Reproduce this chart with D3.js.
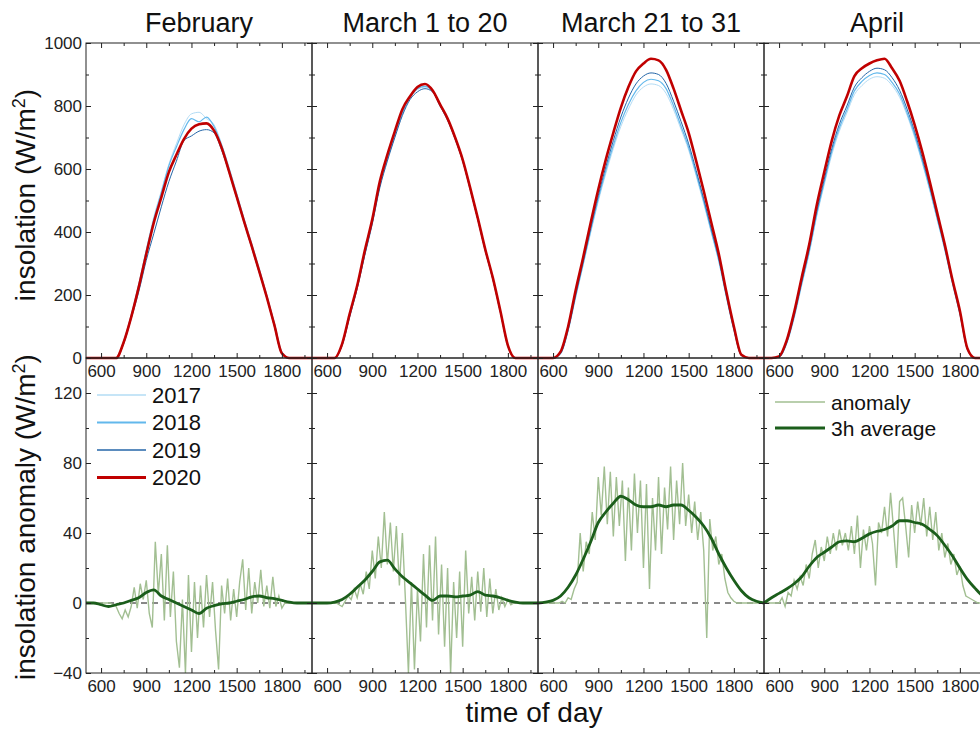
<!DOCTYPE html>
<html>
<head>
<meta charset="utf-8">
<script src="https://cdn.jsdelivr.net/npm/d3@7"></script>
<style>
  body { margin: 0; background: #fff; }
  svg { display: block; font-family: "Liberation Sans", Arial, sans-serif; }
  .tick text { font-size: 17px; fill: #222; }
  .tick line { stroke: #222; }
</style>
</head>
<body>
<script>
// periods and years
var periods = ["February", "March 1 to 20", "March 21 to 31", "April"];
var years = ["2017", "2018", "2019", "2020"];

// time of day (hhmm) for the insolation curves and the 3h average
var curveTimes = [500,550,600,650,700,750,800,850,900,950,1000,1050,1100,1150,1200,1250,
                  1300,1350,1400,1450,1500,1550,1600,1650,1700,1750,1800,1850,1900,1950,2000];

// insolation W/m2
var feb2017 = [0,0,0,0,0,55,138,235,345,448,530,615,680,740,775,780,760,740,680,605,525,442,365,285,200,112,20,0,0,0,0];
var feb2018 = [0,0,0,0,0,52,135,232,340,440,525,610,670,725,760,750,765,735,675,600,520,438,360,280,198,110,18,0,0,0,0];
var feb2019 = [0,0,0,0,0,45,125,210,310,395,480,560,625,690,705,720,725,715,660,588,508,428,350,270,190,100,12,0,0,0,0];
var feb2020 = [0,0,0,0,0,50,130,225,330,430,510,590,645,695,728,742,745,722,668,592,512,432,355,275,193,105,15,0,0,0,0];

var mar1_2017 = [0,0,0,0,40,132,222,328,430,545,630,705,775,825,852,860,846,800,755,695,625,535,440,340,250,146,37,0,0,0,0];
var mar1_2018 = [0,0,0,0,42,135,225,330,432,548,632,708,778,828,855,862,848,802,757,697,627,537,442,342,252,147,38,0,0,0,0];
var mar1_2019 = [0,0,0,0,40,130,220,325,425,540,625,700,770,820,845,855,845,800,755,695,625,535,440,340,250,145,38,0,0,0,0];
var mar1_2020 = [0,0,0,0,45,140,230,340,440,560,645,720,790,830,860,870,850,805,760,700,630,540,445,345,255,150,40,0,0,0,0];

var mar21_2017 = [0,0,0,13,85,192,295,398,497,585,665,735,790,835,860,870,865,840,788,725,660,578,490,398,305,193,88,7,0,0,0];
var mar21_2018 = [0,0,0,14,88,196,300,405,505,595,675,748,805,848,875,885,880,855,800,735,668,585,497,403,310,196,90,8,0,0,0];
var mar21_2019 = [0,0,0,15,90,200,305,412,515,607,690,765,825,870,895,905,900,872,815,750,680,595,505,410,315,200,92,8,0,0,0];
var mar21_2020 = [0,0,0,20,100,215,320,430,535,630,715,795,860,910,935,950,945,915,855,785,715,625,530,430,330,210,100,10,0,0,0];

var apr2017 = [0,0,2,44,126,230,332,450,550,645,720,778,836,865,885,893,888,865,828,770,700,620,532,438,342,236,138,26,0,0,0];
var apr2018 = [0,0,3,46,130,235,338,456,558,655,730,788,848,878,897,905,900,875,838,778,708,626,538,442,345,240,140,27,0,0,0];
var apr2019 = [0,0,3,48,135,240,345,465,568,665,742,800,860,890,910,920,915,890,850,790,718,635,545,448,350,243,143,28,0,0,0];
var apr2020 = [0,0,5,55,145,255,360,485,590,690,770,830,895,920,935,945,950,920,880,815,740,655,560,460,360,250,150,30,0,0,0];

// time of day (hhmm) for the anomaly
var anomalyTimes = [500,520,540,560,580,600,620,640,660,680,
                    700,720,740,760,780,800,820,840,860,880,
                    900,920,940,960,980,1000,1020,1040,1060,1080,
                    1100,1120,1140,1160,1180,1200,1220,1240,1260,1280,
                    1300,1320,1340,1360,1380,1400,1420,1440,1460,1480,
                    1500,1520,1540,1560,1580,1600,1620,1640,1660,1680,
                    1700,1720,1740,1760,1780,1800,1820,1840,1860,1880,
                    1900,1920,1940,1960,1980,2000];

// insolation anomaly W/m2
var febAnomaly = [0,0,0,0,0,0,0,0,0,-1,
                  -2,-6,-9,-4,-8,-2,9,-3,11,2,
                  13,-6,-14,35,5,28,-10,33,-8,18,
                  -22,-37,2,-40,16,-28,12,-20,10,-14,
                  16,-8,12,-16,-38,10,-6,14,-10,8,
                  -8,12,25,-4,20,-6,12,0,19,-2,
                  10,-3,15,-2,4,-3,0,0,0,0,
                  0,0,0,0,0,0];
var mar1Anomaly = [0,0,0,0,0,0,0,0,0,-1,
                   -2,1,4,2,8,3,11,5,18,8,
                   30,14,38,20,52,22,46,18,44,10,
                   40,2,-40,12,-38,8,-22,28,-14,33,
                   -10,38,-18,22,-25,20,-40,12,-20,18,
                   -25,30,-6,15,-10,18,-5,20,-8,14,
                   -6,8,-4,3,-2,2,-1,0,0,0,
                   0,0,0,0,0,0];
var mar21Anomaly = [0,0,0,0,0,0,0,0,1,0,
                    3,2,8,12,40,18,35,28,52,36,
                    72,50,78,45,75,38,72,44,70,24,
                    66,30,74,40,70,20,68,8,60,30,
                    72,28,66,42,78,36,70,45,80,44,
                    62,40,58,36,52,30,-20,48,30,38,
                    22,28,14,6,3,1,0,0,0,0,
                    0,0,0,0,0,0];
var aprAnomaly = [0,0,0,0,0,0,3,-2,6,4,
                  13,8,15,10,22,14,28,36,20,32,
                  24,38,28,40,30,42,33,40,30,44,
                  28,50,20,42,30,44,34,10,46,40,
                  55,38,63,42,20,58,60,44,26,56,
                  40,58,44,60,38,55,36,52,30,40,
                  26,34,22,28,16,21,10,4,3,2,
                  1,0,0,0,0,0];

// 3h average of the anomaly, on curveTimes
var febAverage = [0,0,-1,-2,-1,0,1.5,3,6,7.5,4,2,0,-2,-4,-6,-3,-1.5,-0.5,0,1,2,3.5,4,3,2.5,1.5,0.5,0,0,0];
var mar1Average = [0,0,0,0.5,2,5,9,13,18,23.5,24.5,19.5,15,11.5,8,4.5,1.5,4,4,3.5,4,4.5,6.5,4.5,4,3,1.5,0.5,0,0,0];
var mar21Average = [0,0.5,1.5,4,9,16,25,35,46,52,57,61,59,56,55,55,56,55,56,56,53,49,44,37,28,20,13,7,3,1,0];
var aprAverage = [0,3,5.5,8,11,15,21,26,29,32,35,35.5,35,37,39.5,41,42,44,47,47,46,45,42,38.5,33,27,20,13.5,8.5,4,1];

// ticks
var xTicks = [600, 900, 1200, 1500, 1800];
var xMinor = [750, 1050, 1350, 1650, 1950];
var insolationTicks = [0, 200, 400, 600, 800, 1000];
var insolationMinor = [100, 300, 500, 700, 900];
var anomalyTicks = [-40, 0, 40, 80, 120];
var anomalyMinor = [-20, 20, 60, 100];

var insolation = [
  [feb2017, feb2018, feb2019, feb2020],
  [mar1_2017, mar1_2018, mar1_2019, mar1_2020],
  [mar21_2017, mar21_2018, mar21_2019, mar21_2020],
  [apr2017, apr2018, apr2019, apr2020]
];
var anomalies = [febAnomaly, mar1Anomaly, mar21Anomaly, aprAnomaly];
var averages = [febAverage, mar1Average, mar21Average, aprAverage];

var yearColors = ["#b3dcf5", "#62b8ec", "#2466a8", "#c00000"];
var yearWidths = [1, 1.2, 1, 2.6];
var anomalyColor = "#a2bf92", averageColor = "#1b5e1b";

var width = 980, height = 731;
var left = 86, panelW = 226;
var topTop = 43, mid = 358, bottom = 673;

var svg = d3.select("body").append("svg")
  .attr("width", width)
  .attr("height", height)
  .style("background", "#fff");

var yTop = d3.scaleLinear().domain([0, 1000]).range([mid, topTop]);
var yBot = d3.scaleLinear().domain([-40, 140]).range([bottom, mid]);

function drawAxes(g, x, y, yMajor, yMinorTicks, y0, y1, showY, topTicks) {
  function add(axis, tr) {
    var a = g.append("g").attr("transform", tr).call(axis);
    a.select(".domain").remove();
    return a;
  }
  add(d3.axisBottom(x).tickValues(xTicks).tickSizeInner(-5).tickSizeOuter(0).tickPadding(7)
        .tickFormat(d3.format("d")), "translate(0," + y1 + ")");
  add(d3.axisBottom(x).tickValues(xMinor).tickSizeInner(-3).tickSizeOuter(0).tickFormat(""),
      "translate(0," + y1 + ")");
  if (topTicks) {
    add(d3.axisTop(x).tickValues(xTicks).tickSizeInner(-5).tickSizeOuter(0).tickFormat(""),
        "translate(0," + y0 + ")");
    add(d3.axisTop(x).tickValues(xMinor).tickSizeInner(-3).tickSizeOuter(0).tickFormat(""),
        "translate(0," + y0 + ")");
  }
  add(d3.axisLeft(y).tickValues(yMajor).tickSizeInner(-5).tickSizeOuter(0).tickPadding(4)
        .tickFormat(showY ? d3.format("d") : ""), "translate(" + x.range()[0] + ",0)");
  add(d3.axisLeft(y).tickValues(yMinorTicks).tickSizeInner(-3).tickSizeOuter(0).tickFormat(""),
      "translate(" + x.range()[0] + ",0)");
  add(d3.axisRight(y).tickValues(yMajor).tickSizeInner(-5).tickSizeOuter(0).tickFormat(""),
      "translate(" + x.range()[1] + ",0)");
  add(d3.axisRight(y).tickValues(yMinorTicks).tickSizeInner(-3).tickSizeOuter(0).tickFormat(""),
      "translate(" + x.range()[1] + ",0)");
  g.append("rect")
    .attr("x", x.range()[0]).attr("y", y0)
    .attr("width", x.range()[1] - x.range()[0]).attr("height", y1 - y0)
    .attr("fill", "none").attr("stroke", "#222").attr("stroke-width", 1);
}

periods.forEach(function(p, i) {
  var x = d3.scaleLinear().domain([500, 2000]).range([left + panelW * i, left + panelW * (i + 1)]);
  var g = svg.append("g");

  // top row: insolation for each year
  var lineTop = d3.line()
    .x(function(d, k) { return x(curveTimes[k]); })
    .y(function(d) { return yTop(d); })
    .curve(d3.curveMonotoneX);
  insolation[i].forEach(function(series, j) {
    g.append("path")
      .attr("d", lineTop(series))
      .attr("fill", "none")
      .attr("stroke", yearColors[j])
      .attr("stroke-width", yearWidths[j]);
  });
  drawAxes(g, x, yTop, insolationTicks, insolationMinor, topTop, mid, i === 0, true);

  // bottom row: anomaly and its 3h average
  g.append("line")
    .attr("x1", x.range()[0]).attr("x2", x.range()[1])
    .attr("y1", yBot(0)).attr("y2", yBot(0))
    .attr("stroke", "#111").attr("stroke-width", 1).attr("stroke-dasharray", "6,5");

  var lineAnom = d3.line()
    .x(function(d, k) { return x(anomalyTimes[k]); })
    .y(function(d) { return yBot(d); });
  g.append("path")
    .attr("d", lineAnom(anomalies[i]))
    .attr("fill", "none")
    .attr("stroke", anomalyColor)
    .attr("stroke-width", 1.4);

  var lineAvg = d3.line()
    .x(function(d, k) { return x(curveTimes[k]); })
    .y(function(d) { return yBot(d); })
    .curve(d3.curveMonotoneX);
  g.append("path")
    .attr("d", lineAvg(averages[i]))
    .attr("fill", "none")
    .attr("stroke", averageColor)
    .attr("stroke-width", 2.8);

  drawAxes(g, x, yBot, anomalyTicks, anomalyMinor, mid, bottom, i === 0, false);

  // period title
  svg.append("text")
    .attr("x", (x.range()[0] + x.range()[1]) / 2)
    .attr("y", 32)
    .attr("text-anchor", "middle")
    .style("font-size", "27px")
    .style("fill", "#111")
    .text(p);
});

// axis titles
function yTitle(txt, cy) {
  var t = svg.append("text")
    .attr("transform", "translate(35," + cy + ") rotate(-90)")
    .attr("text-anchor", "middle")
    .style("font-size", "28px")
    .style("fill", "#111");
  t.append("tspan").text(txt + " (W/m");
  t.append("tspan").attr("dy", -10).style("font-size", "18px").text("2");
  t.append("tspan").attr("dy", 10).text(")");
}
yTitle("insolation", 195);
yTitle("insolation anomaly", 517);

svg.append("text")
  .attr("x", 534).attr("y", 722)
  .attr("text-anchor", "middle")
  .style("font-size", "28px")
  .style("fill", "#111")
  .text("time of day");

// year legend
var legend1 = svg.append("g");
years.forEach(function(yr, j) {
  var ly = 395 + j * 27.5;
  legend1.append("line")
    .attr("x1", 97).attr("x2", 146).attr("y1", ly).attr("y2", ly)
    .attr("stroke", yearColors[j]).attr("stroke-width", yearWidths[j] + 0.6);
  legend1.append("text")
    .attr("x", 152).attr("y", ly).attr("dy", "0.36em")
    .style("font-size", "22px").style("fill", "#111")
    .text(yr);
});

// anomaly legend
var legend2 = svg.append("g");
[["anomaly", anomalyColor, 1.5], ["3h average", averageColor, 3.2]].forEach(function(d, j) {
  var ly = 402 + j * 26;
  legend2.append("line")
    .attr("x1", 775).attr("x2", 825).attr("y1", ly).attr("y2", ly)
    .attr("stroke", d[1]).attr("stroke-width", d[2]);
  legend2.append("text")
    .attr("x", 831).attr("y", ly).attr("dy", "0.36em")
    .style("font-size", "21px").style("fill", "#111")
    .text(d[0]);
});
</script>
</body>
</html>
